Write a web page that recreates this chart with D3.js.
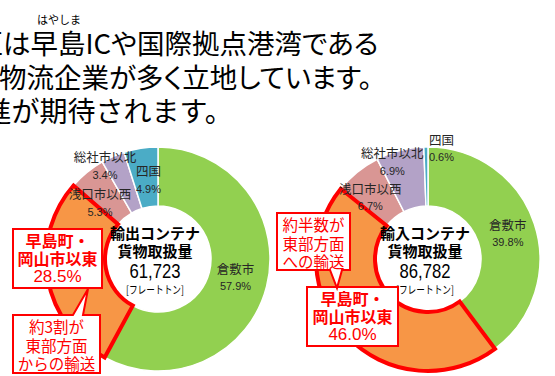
<!DOCTYPE html>
<html>
<head>
<meta charset="utf-8">
<script src="https://cdn.jsdelivr.net/npm/d3@7"></script>
<style>
  html, body { margin: 0; padding: 0; background: #fff; }
  svg { display: block; }
  text { font-family: "Noto Sans CJK JP", "Noto Sans", sans-serif; }
  .num { font-family: "Liberation Sans", Arial, "Noto Sans CJK JP", sans-serif; }
</style>
</head>
<body>
<svg id="chart" width="555" height="376"></svg>
<script>
// Destination areas of container cargo (share in %)
const categories = ["倉敷市", "早島町・岡山市以東", "浅口市以西", "総社市以北", "四国"];
const exportShare = [57.9, 28.5, 5.3, 3.4, 4.9];
const importShare = [39.8, 46.0, 6.7, 6.9, 0.6];
const chartTitles = [["輸出コンテナ", "貨物取扱量"], ["輸入コンテナ", "貨物取扱量"]];
const totals = [61723, 86782];
const unitLabel = "[フレートトン]";
const calloutNotes = [["約3割が", "東部方面", "からの輸送"], ["約半数が", "東部方面", "への輸送"]];
const headline = ["区は早島ICや国際拠点港湾である", "物流企業が多く立地しています。", "進が期待されます。"];
const rubyText = "はやしま";

const colors = ["#92D050", "#F79646", "#D99694", "#B3A2C7", "#4BACC6"];
const highlight = 1; // index of the emphasised area

const svg = d3.select("#chart");

// Headline text (starts off the left edge)
const headStyle = [
  { x: -24.5, y: 54, size: 27.5, palt: true },
  { x: -1, y: 88, size: 27.5, palt: true },
  { x: -16.5, y: 122, size: 28, palt: false }
];
headline.forEach((t, i) => {
  const s = headStyle[i];
  svg.append("text").attr("x", s.x).attr("y", s.y).attr("fill", "#000")
    .style("font-size", s.size + "px")
    .style("font-feature-settings", s.palt ? "'palt'" : "normal")
    .text(t);
});
svg.append("text").attr("x", 59).attr("y", 24).attr("text-anchor", "middle")
  .style("font-size", "11px").attr("fill", "#000").text(rubyText);

// Donut layout
const panels = [
  { cx: 158, cy: 259, values: exportShare,
    labelShift: [[-2, -2], null, [-6, 7], [-20, -18], [3, 2]],
    calloutMain: { x: 13, y: 229, w: 89, h: 59 },
    calloutNote: { x: 13, y: 315, w: 87, h: 58, tail: { side: "top", a: 73, b: 83, tx: 88, ty: 289 } } },
  { cx: 428, cy: 259, values: importShare,
    labelShift: [[2, 0], null, [-6, 2], [-15, -18], [15, -29]],
    calloutMain: { x: 307, y: 287, w: 91, h: 59 },
    calloutNote: { x: 277, y: 213, w: 73, h: 57, tail: { side: "bottom", a: 330, b: 342, tx: 337, ty: 288 } } }
];

const rOuter = 112, rInner = 53, rLabel = 82;
const pie = d3.pie().sort(null).value(d => d.v);
const arc = d3.arc().innerRadius(rInner).outerRadius(rOuter);
const labelArc = d3.arc().innerRadius(rLabel).outerRadius(rLabel);
const fmt = d3.format(",");

panels.forEach((p, pi) => {
  const data = p.values.map((v, i) => ({ v, i, name: categories[i] }));
  const arcs = pie(data);
  const g = svg.append("g").attr("transform", `translate(${p.cx},${p.cy})`);

  g.selectAll("path.slice").data(arcs).join("path")
    .attr("class", "slice")
    .attr("d", arc)
    .attr("fill", d => colors[d.data.i])
    .attr("stroke", "#fff").attr("stroke-width", 1.5);

  // red outline around the emphasised area
  g.append("path").attr("d", arc(arcs[highlight]))
    .attr("fill", "none").attr("stroke", "#FF0000").attr("stroke-width", 4)
    .attr("stroke-linejoin", "miter");

  // slice labels
  arcs.forEach(a => {
    const shift = p.labelShift[a.data.i];
    if (!shift) return;
    const [lx, ly] = labelArc.centroid(a);
    const x = lx + shift[0], y = ly + shift[1];
    g.append("text").attr("x", x).attr("y", y - 9).attr("text-anchor", "middle")
      .attr("dominant-baseline", "central").attr("fill", "#262626")
      .style("font-size", "12.5px").text(a.data.name);
    g.append("text").attr("class", "num").attr("x", x).attr("y", y + 9)
      .attr("text-anchor", "middle").attr("dominant-baseline", "central")
      .attr("fill", "#262626").style("font-size", "11px")
      .text(a.data.v.toFixed(1) + "%");
  });

  // centre text
  const c = svg.append("g").attr("transform", `translate(${p.cx - 3},${p.cy})`)
    .attr("text-anchor", "middle").attr("fill", "#000");
  c.append("text").attr("y", -27).attr("dominant-baseline", "central")
    .style("font-size", "15px").style("font-weight", "700").text(chartTitles[pi][0]);
  c.append("text").attr("y", -9).attr("dominant-baseline", "central")
    .style("font-size", "15px").style("font-weight", "700").text(chartTitles[pi][1]);
  c.append("text").attr("class", "num").attr("y", 11).attr("dominant-baseline", "central")
    .style("font-size", "21px").attr("textLength", 51).attr("lengthAdjust", "spacingAndGlyphs")
    .text(fmt(totals[pi]));
  c.append("text").attr("y", 30).attr("dominant-baseline", "central")
    .style("font-size", "11px").attr("textLength", 58).attr("lengthAdjust", "spacingAndGlyphs")
    .text(unitLabel);

  // callout boxes
  const drawBox = (b) => {
    let d;
    const x0 = b.x, y0 = b.y, x1 = b.x + b.w, y1 = b.y + b.h;
    if (b.tail && b.tail.side === "top") {
      d = `M${x0},${y0}H${b.tail.a}L${b.tail.tx},${b.tail.ty}L${b.tail.b},${y0}H${x1}V${y1}H${x0}Z`;
    } else if (b.tail && b.tail.side === "bottom") {
      d = `M${x0},${y0}H${x1}V${y1}H${b.tail.b}L${b.tail.tx},${b.tail.ty}L${b.tail.a},${y1}H${x0}Z`;
    } else {
      d = `M${x0},${y0}H${x1}V${y1}H${x0}Z`;
    }
    svg.append("path").attr("d", d).attr("fill", "#fff")
      .attr("stroke", "#FF0000").attr("stroke-width", 2);
  };

  const cm = p.calloutMain;
  drawBox(cm);
  const nameParts = categories[highlight].split("・");
  const mainLines = [nameParts[0] + "・", nameParts[1], p.values[highlight].toFixed(1) + "%"];
  mainLines.forEach((t, li) => {
    svg.append("text").attr("class", li === 2 ? "num" : null)
      .attr("x", cm.x + cm.w / 2).attr("y", cm.y + 11 + li * 18)
      .attr("text-anchor", "middle").attr("dominant-baseline", "central")
      .attr("fill", "#FF0000").style("font-size", li === 2 ? "17px" : "16px")
      .style("font-weight", li === 2 ? "400" : "700").text(t);
  });

  const cn = p.calloutNote;
  drawBox(cn);
  calloutNotes[pi].forEach((t, li) => {
    svg.append("text").attr("x", cn.x + cn.w / 2).attr("y", cn.y + 11 + li * 18.5)
      .attr("text-anchor", "middle").attr("dominant-baseline", "central")
      .attr("fill", "#FF0000").style("font-size", "15.5px").text(t);
  });
});
</script>
</body>
</html>
